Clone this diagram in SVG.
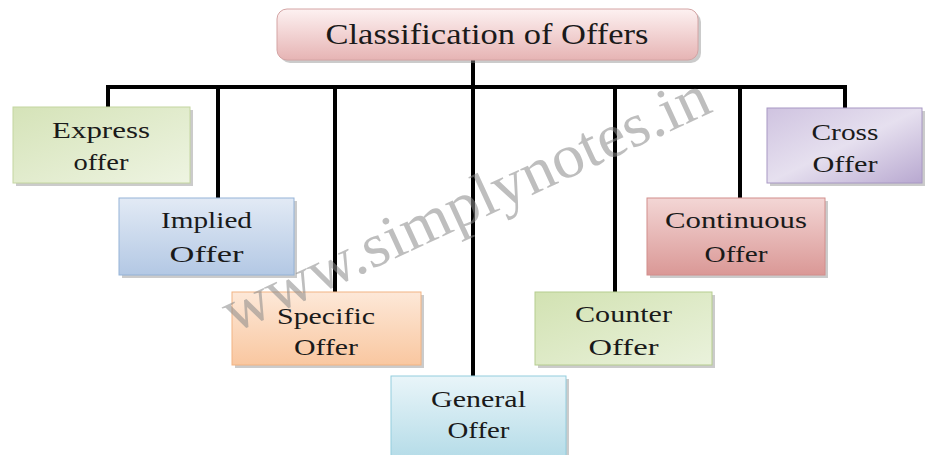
<svg xmlns="http://www.w3.org/2000/svg" width="925" height="455" viewBox="0 0 925 455">
<style>
.t{font-family:"Liberation Serif","Times New Roman",serif;font-size:23px;fill:#1a1a1a;text-anchor:middle}
.ti{font-family:"Liberation Serif","Times New Roman",serif;font-size:30px;fill:#1a1a1a;text-anchor:middle}
.sh{fill:#8c8c8c;opacity:0.45}
.ln{stroke:#000;stroke-width:4;fill:none}
.wm{font-family:"Liberation Serif","Times New Roman",serif;font-size:62px;fill:#8a8a8a;opacity:0.55;text-anchor:middle}
</style>
<defs>
<linearGradient id="gTitle" x1="0" y1="0" x2="0" y2="1"><stop offset="0" stop-color="#fdf1f1"/><stop offset="1" stop-color="#e6b4b4"/></linearGradient>
<linearGradient id="gGreen" x1="0" y1="0" x2="1" y2="1"><stop offset="0" stop-color="#d5e3b8"/><stop offset="1" stop-color="#eef4e2"/></linearGradient>
<linearGradient id="gBlue" x1="0" y1="0" x2="0" y2="1"><stop offset="0" stop-color="#e2eaf5"/><stop offset="1" stop-color="#b3c8e4"/></linearGradient>
<linearGradient id="gPeach" x1="0" y1="0" x2="0" y2="1"><stop offset="0" stop-color="#fde8d8"/><stop offset="1" stop-color="#f9c7a0"/></linearGradient>
<linearGradient id="gCyan" x1="0" y1="0" x2="0" y2="1"><stop offset="0" stop-color="#e9f5f9"/><stop offset="1" stop-color="#b5dce8"/></linearGradient>
<linearGradient id="gGreen2" x1="0" y1="0" x2="1" y2="1"><stop offset="0" stop-color="#d2e2b2"/><stop offset="1" stop-color="#eaf2dc"/></linearGradient>
<linearGradient id="gRed" x1="0" y1="0" x2="0" y2="1"><stop offset="0" stop-color="#f3d6d5"/><stop offset="1" stop-color="#da9896"/></linearGradient>
<linearGradient id="gPurple" x1="0" y1="0" x2="1" y2="1"><stop offset="0" stop-color="#cfc3e0"/><stop offset="0.5" stop-color="#e6e0ef"/><stop offset="1" stop-color="#b8a8d0"/></linearGradient>
</defs>
<rect width="925" height="455" fill="#fff"/>

<g id="connectors">
<path class="ln" d="M108,107 V87 H845 V108"/>
<line class="ln" x1="473" y1="60" x2="473" y2="376"/>
<line class="ln" x1="218" y1="87" x2="218" y2="198"/>
<line class="ln" x1="335" y1="87" x2="335" y2="292"/>
<line class="ln" x1="615" y1="87" x2="615" y2="292"/>
<line class="ln" x1="740" y1="87" x2="740" y2="198"/>
</g>

<g id="title">
<rect class="sh" x="280" y="12" width="421" height="51" rx="10"/>
<rect x="277" y="9" width="421" height="51" rx="10" fill="url(#gTitle)" stroke="#d4a4a4" stroke-width="1"/>
<text class="ti" x="487" y="44" textLength="323" lengthAdjust="spacingAndGlyphs">Classification of Offers</text>
</g>

<g id="express">
<rect class="sh" x="16" y="110" width="177" height="76"/>
<rect x="13" y="107" width="177" height="76" fill="url(#gGreen)" stroke="#c4d6a0" stroke-width="1"/>
<text class="t" x="101" y="138" textLength="98" lengthAdjust="spacingAndGlyphs">Express</text>
<text class="t" x="101" y="170" textLength="55" lengthAdjust="spacingAndGlyphs">offer</text>
</g>

<g id="implied">
<rect class="sh" x="122" y="201" width="175" height="77"/>
<rect x="119" y="198" width="175" height="77" fill="url(#gBlue)" stroke="#95b3d7" stroke-width="1"/>
<text class="t" x="206.5" y="228" textLength="91" lengthAdjust="spacingAndGlyphs">Implied</text>
<text class="t" x="206.5" y="262" textLength="74" lengthAdjust="spacingAndGlyphs">Offer</text>
</g>

<g id="specific">
<rect class="sh" x="235" y="295" width="189" height="73"/>
<rect x="232" y="292" width="189" height="73" fill="url(#gPeach)" stroke="#f2b483" stroke-width="1"/>
<text class="t" x="326" y="324" textLength="98" lengthAdjust="spacingAndGlyphs">Specific</text>
<text class="t" x="326" y="355" textLength="64" lengthAdjust="spacingAndGlyphs">Offer</text>
</g>

<g id="general">
<rect class="sh" x="394" y="379" width="175" height="80"/>
<rect x="391" y="376" width="175" height="82" fill="url(#gCyan)" stroke="#93cddd" stroke-width="1"/>
<text class="t" x="478.5" y="407" textLength="95" lengthAdjust="spacingAndGlyphs">General</text>
<text class="t" x="478.5" y="438" textLength="62" lengthAdjust="spacingAndGlyphs">Offer</text>
</g>

<g id="counter">
<rect class="sh" x="538" y="295" width="177" height="73"/>
<rect x="535" y="292" width="177" height="73" fill="url(#gGreen2)" stroke="#b6cd8f" stroke-width="1"/>
<text class="t" x="623.5" y="322" textLength="97" lengthAdjust="spacingAndGlyphs">Counter</text>
<text class="t" x="623.5" y="355" textLength="70" lengthAdjust="spacingAndGlyphs">Offer</text>
</g>

<g id="continuous">
<rect class="sh" x="650" y="201" width="178" height="77"/>
<rect x="647" y="198" width="178" height="77" fill="url(#gRed)" stroke="#d28e8c" stroke-width="1"/>
<text class="t" x="736" y="228" textLength="142" lengthAdjust="spacingAndGlyphs">Continuous</text>
<text class="t" x="736" y="262" textLength="63" lengthAdjust="spacingAndGlyphs">Offer</text>
</g>

<g id="cross">
<rect class="sh" x="770" y="111" width="155" height="75"/>
<rect x="767" y="108" width="155" height="75" fill="url(#gPurple)" stroke="#a898c4" stroke-width="1"/>
<text class="t" x="845" y="140" textLength="67" lengthAdjust="spacingAndGlyphs">Cross</text>
<text class="t" x="845" y="172" textLength="65" lengthAdjust="spacingAndGlyphs">Offer</text>
</g>

<text class="wm" x="474" y="222" transform="rotate(-24.8 474 222)" textLength="530" lengthAdjust="spacingAndGlyphs">www.simplynotes.in</text>
</svg>
